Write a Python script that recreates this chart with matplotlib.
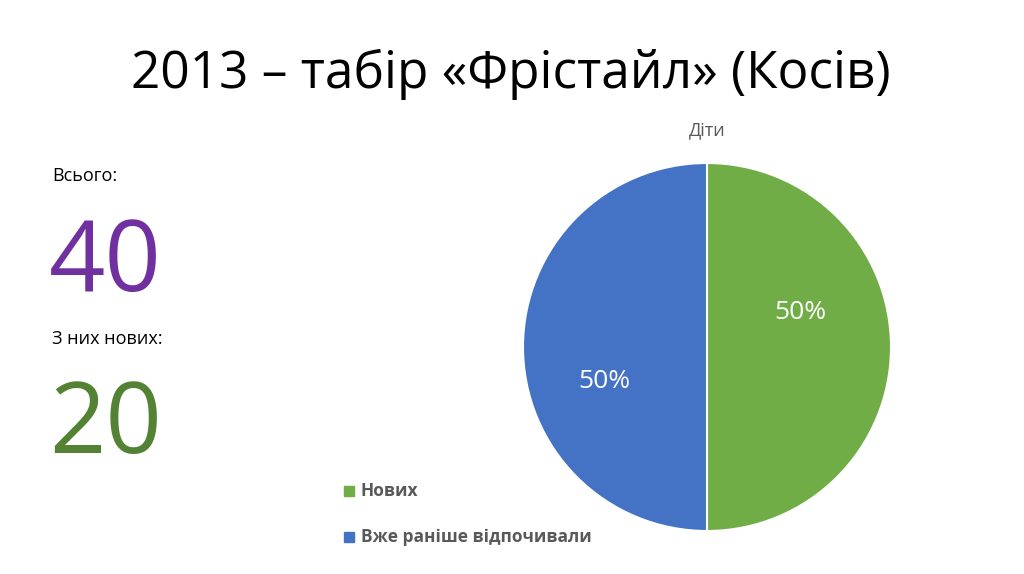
import matplotlib.pyplot as plt
from matplotlib.patches import Rectangle

plt.rcParams['font.family'] = ['Open Sans', 'DejaVu Sans']

# дані
labels = ["Нових", "Вже раніше відпочивали"]
values = [20, 20]
colors = ["#70AD47", "#4472C4"]
total = 40
new_count = 20

W, H = 1024, 574
fig = plt.figure(figsize=(W / 100, H / 100), dpi=100)
fig.patch.set_facecolor("white")

def fx(x):
    return x / W

def fy(y):
    return 1 - y / H

# заголовок
fig.text(fx(511), fy(74), "2013 – табір «Фрістайл» (Косів)",
         ha="center", va="center", fontsize=37, color="black")

# ліва частина
fig.text(fx(52), fy(176), "Всього:", ha="left", va="center", fontsize=13, color="black")
fig.text(fx(49), fy(265), str(total), ha="left", va="center", fontsize=71, color="#7030A0")
fig.text(fx(52), fy(339), "З них нових:", ha="left", va="center", fontsize=13, color="black")
fig.text(fx(49), fy(427), str(new_count), ha="left", va="center", fontsize=71, color="#548235")

# кругова діаграма
cx, cy, r = 707, 347, 184
ax = fig.add_axes([fx(cx - r), fy(cy + r), 2 * r / W, 2 * r / H])
wedges, texts, autotexts = ax.pie(
    values, colors=colors, startangle=90, counterclock=False,
    autopct="%1.0f%%", pctdistance=0.6,
    wedgeprops=dict(edgecolor="white", linewidth=1.5),
    textprops=dict(color="white", fontsize=19),
)
# підписи як в Excel
autotexts[0].set_position((0.51, 0.185))
autotexts[1].set_position((-0.56, -0.185))
ax.set_aspect("equal")
ax.set_xlim(-1, 1)
ax.set_ylim(-1, 1)
ax.axis("off")

fig.text(fx(707), fy(130), "Діти", ha="center", va="center", fontsize=13, color="#595959")

# легенда
for i, (lab, col) in enumerate(zip(labels, colors)):
    y = 491 + i * 46
    fig.patches.append(Rectangle((fx(344), fy(y + 5)), 10 / W, 10 / H,
                                 transform=fig.transFigure, color=col))
    fig.text(fx(361), fy(y), lab, ha="left", va="center", fontsize=12.5,
             fontweight="bold", color="#595959")

fig.savefig("out.png", dpi=100)
